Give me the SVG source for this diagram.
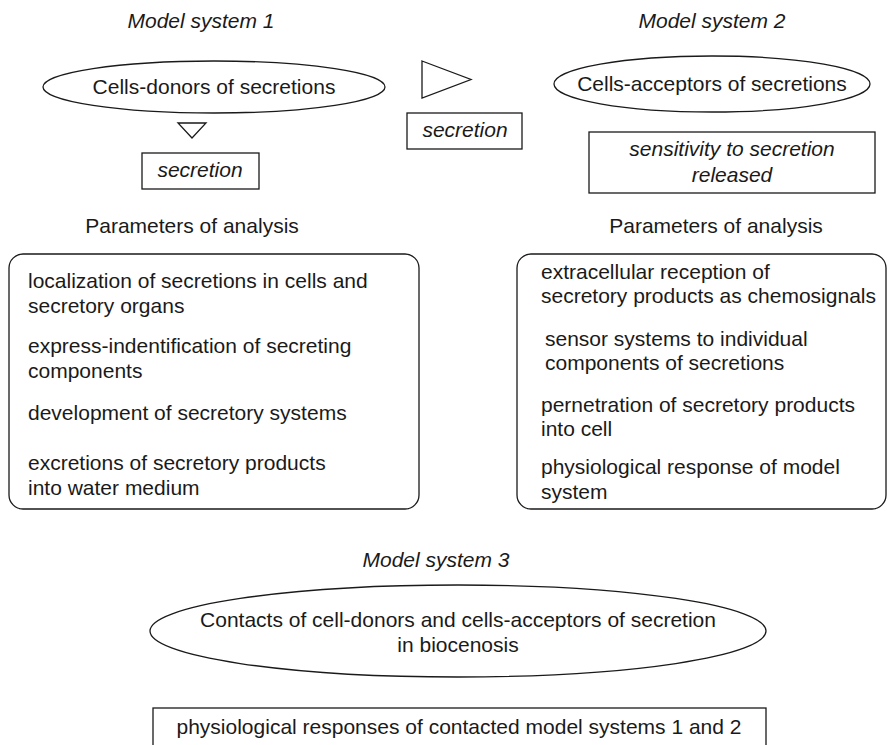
<svg xmlns="http://www.w3.org/2000/svg" width="887" height="745" viewBox="0 0 887 745">
<style>
text{font-family:"Liberation Sans",Arial,sans-serif;font-size:21px;fill:#1a1a1a}
.i{font-style:italic}
.m{text-anchor:middle}
.s{fill:#fff;stroke:#1a1a1a;stroke-width:1.3}
</style>
<rect width="887" height="745" fill="#fff"/>
<text class="i m" x="201" y="28">Model system 1</text>
<text class="i m" x="712" y="28">Model system 2</text>
<g id="donors">
<ellipse class="s" cx="214" cy="87" rx="171" ry="26"/>
<text class="m" x="214" y="94">Cells-donors of secretions</text>
</g>
<g id="acceptors">
<ellipse class="s" cx="712" cy="84" rx="158" ry="28"/>
<text class="m" x="712" y="91">Cells-acceptors of secretions</text>
</g>
<g id="connectors">
<polygon class="s" points="178,123 206,123 192,138"/>
<polygon class="s" points="422,61 471,79.5 422,98"/>
</g>
<g id="secretion1">
<rect class="s" x="142" y="153" width="117" height="36"/>
<text class="i m" x="200" y="177">secretion</text>
</g>
<g id="secretion2">
<rect class="s" x="407" y="113" width="115" height="36"/>
<text class="i m" x="465" y="137">secretion</text>
</g>
<g id="sensitivity">
<rect class="s" x="589" y="132" width="286" height="61"/>
<text class="i m" x="732" y="156">sensitivity to secretion</text>
<text class="i m" x="732" y="182">released</text>
</g>
<text class="m" x="192" y="233">Parameters of analysis</text>
<text class="m" x="716" y="233">Parameters of analysis</text>
<g id="params1">
<rect class="s" x="9" y="254" width="410" height="255" rx="14"/>
<text x="28" y="288">localization of secretions in cells and</text>
<text x="28" y="313">secretory organs</text>
<text x="28" y="353">express-indentification of secreting</text>
<text x="28" y="378">components</text>
<text x="28" y="420">development of secretory systems</text>
<text x="28" y="470">excretions of secretory products</text>
<text x="28" y="495">into water medium</text>
</g>
<g id="params2">
<rect class="s" x="517" y="254" width="369" height="255" rx="14"/>
<text x="541" y="279">extracellular reception of</text>
<text x="541" y="303">secretory products as chemosignals</text>
<text x="545" y="346">sensor systems to individual</text>
<text x="545" y="370">components of secretions</text>
<text x="541" y="412">pernetration of secretory products</text>
<text x="541" y="436">into cell</text>
<text x="541" y="474">physiological response of model</text>
<text x="541" y="499">system</text>
</g>
<text class="i m" x="436" y="567">Model system 3</text>
<g id="contacts">
<ellipse class="s" cx="458" cy="631" rx="308" ry="46"/>
<text class="m" x="458" y="627">Contacts of cell-donors and cells-acceptors of secretion</text>
<text class="m" x="458" y="652">in biocenosis</text>
</g>
<g id="responses">
<rect class="s" x="153" y="708" width="613" height="50"/>
<text class="m" x="459" y="734">physiological responses of contacted model systems 1 and 2</text>
</g>
</svg>
